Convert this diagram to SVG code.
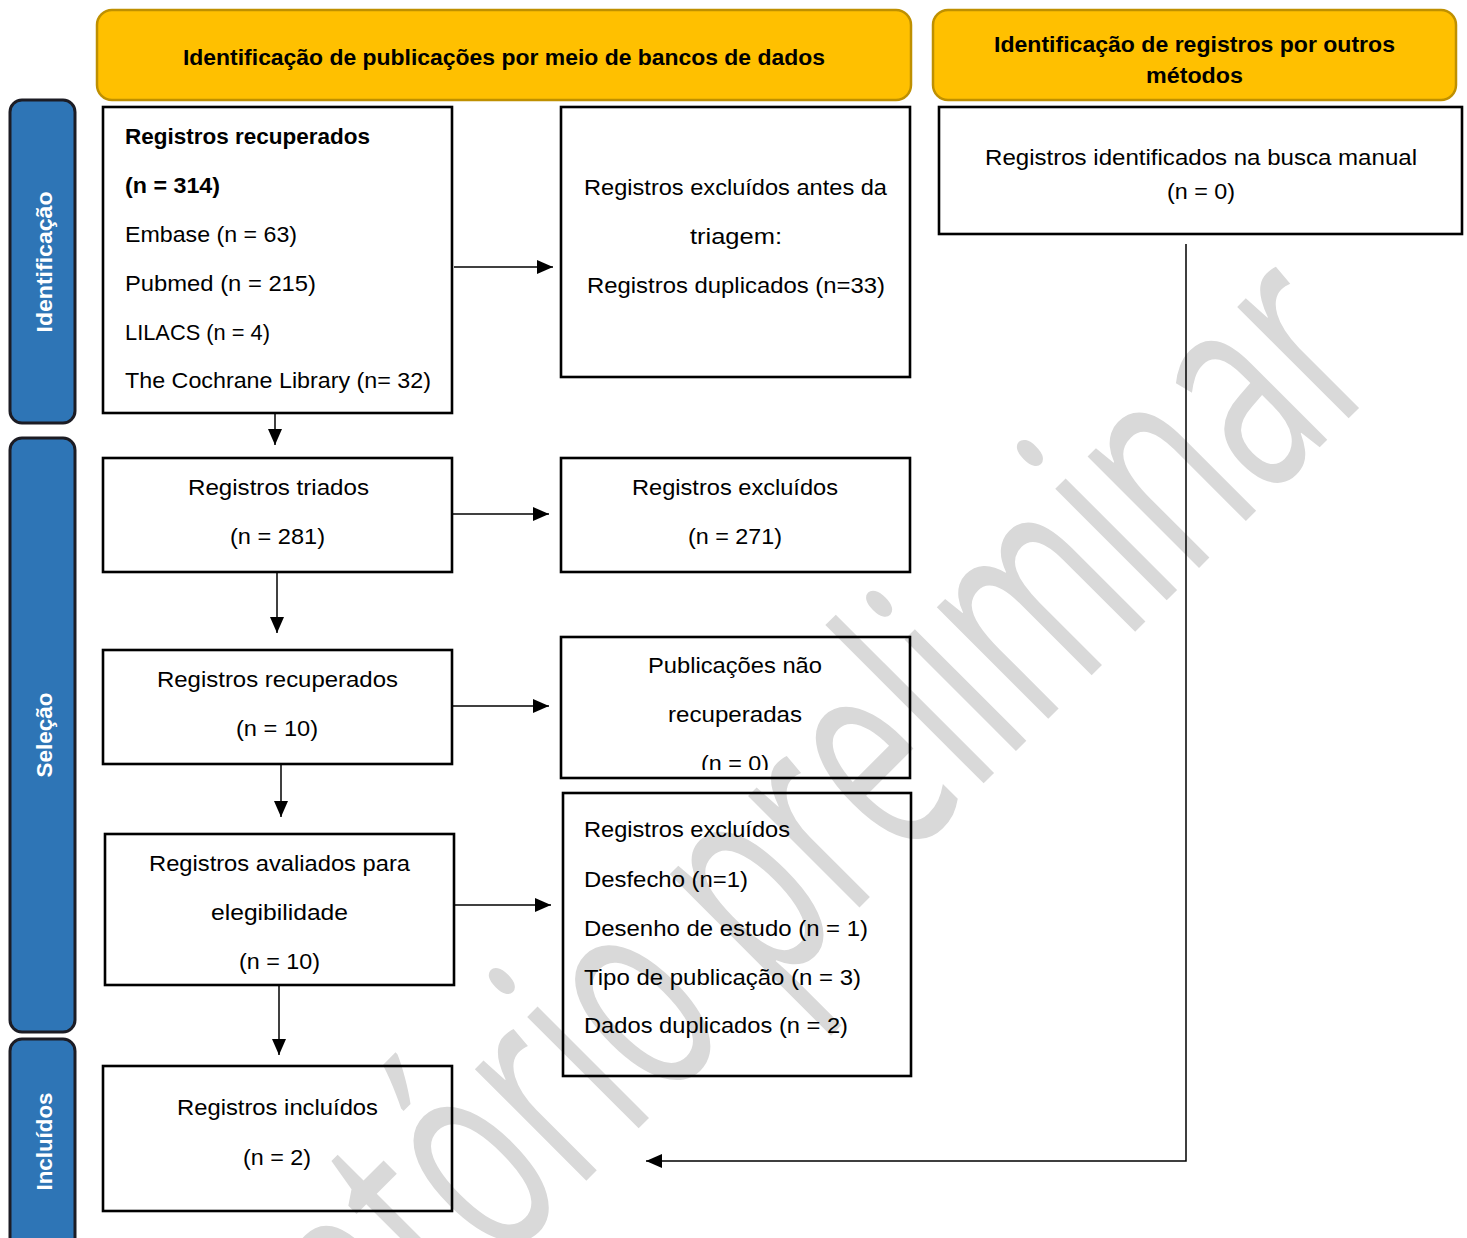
<svg xmlns="http://www.w3.org/2000/svg" width="1467" height="1238" viewBox="0 0 1467 1238">
<style>
.t{font-family:"Liberation Sans",Arial,sans-serif;font-size:22px;fill:#000}
.c{text-anchor:middle}
.b{font-weight:bold}
.box{fill:none;stroke:#000;stroke-width:2.6}
.hdr{fill:#FFC000;stroke:#BF9000;stroke-width:2.5}
.side{fill:#2E75B6;stroke:#1c1c24;stroke-width:3}
.st{font-family:"Liberation Sans",Arial,sans-serif;font-size:22px;font-weight:bold;fill:#fff;text-anchor:middle}
.ln{fill:none;stroke:#000;stroke-width:1.5}
.wm{font-family:"Open Sans","Liberation Sans",sans-serif;font-size:215px;fill:#d9d9d9;text-anchor:end}
</style>
<defs>
<marker id="ah" markerUnits="userSpaceOnUse" markerWidth="16" markerHeight="14" refX="16" refY="7" orient="auto">
<path d="M0,0 L16,7 L0,14 z" fill="#000"/>
</marker>
<clipPath id="clip7"><rect x="561" y="637" width="349" height="133"/></clipPath>
</defs>

<g id="watermark">
<text class="wm" transform="translate(1390,377) rotate(-45) scale(1,1.37)" x="0" y="0" textLength="1685" lengthAdjust="spacingAndGlyphs">Relatório preliminar</text>
</g>

<g id="header-db">
<rect class="hdr" x="97" y="10" width="814" height="90" rx="15"/>
<text class="t c b" x="504" y="65" textLength="642" lengthAdjust="spacingAndGlyphs">Identificação de publicações por meio de bancos de dados</text>
</g>
<g id="header-other">
<rect class="hdr" x="933" y="10" width="523" height="90" rx="15"/>
<text class="t c b" x="1194.5" y="52" textLength="401" lengthAdjust="spacingAndGlyphs">Identificação de registros por outros</text>
<text class="t c b" x="1194.5" y="83" textLength="97" lengthAdjust="spacingAndGlyphs">métodos</text>
</g>

<g id="side-identificacao">
<rect class="side" x="10" y="100" width="65" height="323" rx="12"/>
<text class="st" transform="translate(52,262) rotate(-90)" textLength="141" lengthAdjust="spacingAndGlyphs">Identificação</text>
</g>
<g id="side-selecao">
<rect class="side" x="10" y="438" width="65" height="594" rx="12"/>
<text class="st" transform="translate(52,735) rotate(-90)" textLength="85" lengthAdjust="spacingAndGlyphs">Seleção</text>
</g>
<g id="side-incluidos">
<rect class="side" x="10" y="1039" width="65" height="215" rx="12"/>
<text class="st" transform="translate(52,1141.5) rotate(-90)" textLength="98" lengthAdjust="spacingAndGlyphs">Incluídos</text>
</g>

<g id="box-recuperados-314">
<rect class="box" x="103" y="107" width="349" height="306"/>
<text class="t b" x="125" y="144" textLength="245" lengthAdjust="spacingAndGlyphs">Registros recuperados</text>
<text class="t b" x="125" y="193" textLength="95" lengthAdjust="spacingAndGlyphs">(n = 314)</text>
<text class="t" x="125" y="242" textLength="172" lengthAdjust="spacingAndGlyphs">Embase (n = 63)</text>
<text class="t" x="125" y="291" textLength="191" lengthAdjust="spacingAndGlyphs">Pubmed (n = 215)</text>
<text class="t" x="125" y="340" textLength="145" lengthAdjust="spacingAndGlyphs">LILACS (n = 4)</text>
<text class="t" x="125" y="388" textLength="306" lengthAdjust="spacingAndGlyphs">The Cochrane Library (n= 32)</text>
</g>

<g id="box-excluidos-antes">
<rect class="box" x="561" y="107" width="349" height="270"/>
<text class="t c" x="735.5" y="195" textLength="303" lengthAdjust="spacingAndGlyphs">Registros excluídos antes da</text>
<text class="t c" x="736" y="244" textLength="92" lengthAdjust="spacingAndGlyphs">triagem:</text>
<text class="t c" x="736" y="293" textLength="298" lengthAdjust="spacingAndGlyphs">Registros duplicados (n=33)</text>
</g>

<g id="box-busca-manual">
<rect class="box" x="939" y="107" width="523" height="127"/>
<text class="t c" x="1201" y="165" textLength="432" lengthAdjust="spacingAndGlyphs">Registros identificados na busca manual</text>
<text class="t c" x="1201" y="199" textLength="68" lengthAdjust="spacingAndGlyphs">(n = 0)</text>
</g>

<g id="box-triados">
<rect class="box" x="103" y="458" width="349" height="114"/>
<text class="t c" x="278.5" y="495" textLength="181" lengthAdjust="spacingAndGlyphs">Registros triados</text>
<text class="t c" x="277.5" y="544" textLength="95" lengthAdjust="spacingAndGlyphs">(n = 281)</text>
</g>

<g id="box-excluidos-271">
<rect class="box" x="561" y="458" width="349" height="114"/>
<text class="t c" x="735" y="495" textLength="206" lengthAdjust="spacingAndGlyphs">Registros excluídos</text>
<text class="t c" x="735" y="544" textLength="94" lengthAdjust="spacingAndGlyphs">(n = 271)</text>
</g>

<g id="box-recuperados-10">
<rect class="box" x="103" y="650" width="349" height="114"/>
<text class="t c" x="277.5" y="687" textLength="241" lengthAdjust="spacingAndGlyphs">Registros recuperados</text>
<text class="t c" x="277" y="736" textLength="82" lengthAdjust="spacingAndGlyphs">(n = 10)</text>
</g>

<g id="box-nao-recuperadas">
<rect class="box" x="561" y="637" width="349" height="141"/>
<g clip-path="url(#clip7)">
<text class="t c" x="735" y="673" textLength="174" lengthAdjust="spacingAndGlyphs">Publicações não</text>
<text class="t c" x="735" y="722" textLength="134" lengthAdjust="spacingAndGlyphs">recuperadas</text>
<text class="t c" x="735" y="771" textLength="68" lengthAdjust="spacingAndGlyphs">(n = 0)</text>
</g>
</g>

<g id="box-avaliados">
<rect class="box" x="105" y="834" width="349" height="151"/>
<text class="t c" x="279.5" y="871" textLength="261" lengthAdjust="spacingAndGlyphs">Registros avaliados para</text>
<text class="t c" x="279.5" y="920" textLength="137" lengthAdjust="spacingAndGlyphs">elegibilidade</text>
<text class="t c" x="279.5" y="969" textLength="81" lengthAdjust="spacingAndGlyphs">(n = 10)</text>
</g>

<g id="box-excluidos-motivos">
<rect class="box" x="563" y="793" width="348" height="283"/>
<text class="t" x="584" y="837" textLength="206" lengthAdjust="spacingAndGlyphs">Registros excluídos</text>
<text class="t" x="584" y="887" textLength="164" lengthAdjust="spacingAndGlyphs">Desfecho (n=1)</text>
<text class="t" x="584" y="936" textLength="284" lengthAdjust="spacingAndGlyphs">Desenho de estudo (n = 1)</text>
<text class="t" x="584" y="985" textLength="277" lengthAdjust="spacingAndGlyphs">Tipo de publicação (n = 3)</text>
<text class="t" x="584" y="1033" textLength="264" lengthAdjust="spacingAndGlyphs">Dados duplicados (n = 2)</text>
</g>

<g id="box-incluidos">
<rect class="box" x="103" y="1066" width="349" height="145"/>
<text class="t c" x="277.5" y="1115" textLength="201" lengthAdjust="spacingAndGlyphs">Registros incluídos</text>
<text class="t c" x="277" y="1165" textLength="68" lengthAdjust="spacingAndGlyphs">(n = 2)</text>
</g>

<g id="connectors">
<line class="ln" x1="454" y1="267" x2="553" y2="267" marker-end="url(#ah)"/>
<line class="ln" x1="275" y1="414" x2="275" y2="445" marker-end="url(#ah)"/>
<line class="ln" x1="453" y1="514" x2="549" y2="514" marker-end="url(#ah)"/>
<line class="ln" x1="277" y1="573" x2="277" y2="633" marker-end="url(#ah)"/>
<line class="ln" x1="453" y1="706" x2="549" y2="706" marker-end="url(#ah)"/>
<line class="ln" x1="281" y1="765" x2="281" y2="817" marker-end="url(#ah)"/>
<line class="ln" x1="455" y1="905" x2="551" y2="905" marker-end="url(#ah)"/>
<line class="ln" x1="279" y1="986" x2="279" y2="1055" marker-end="url(#ah)"/>
<polyline class="ln" points="1186,244 1186,1161 646,1161" marker-end="url(#ah)"/>
</g>
</svg>
